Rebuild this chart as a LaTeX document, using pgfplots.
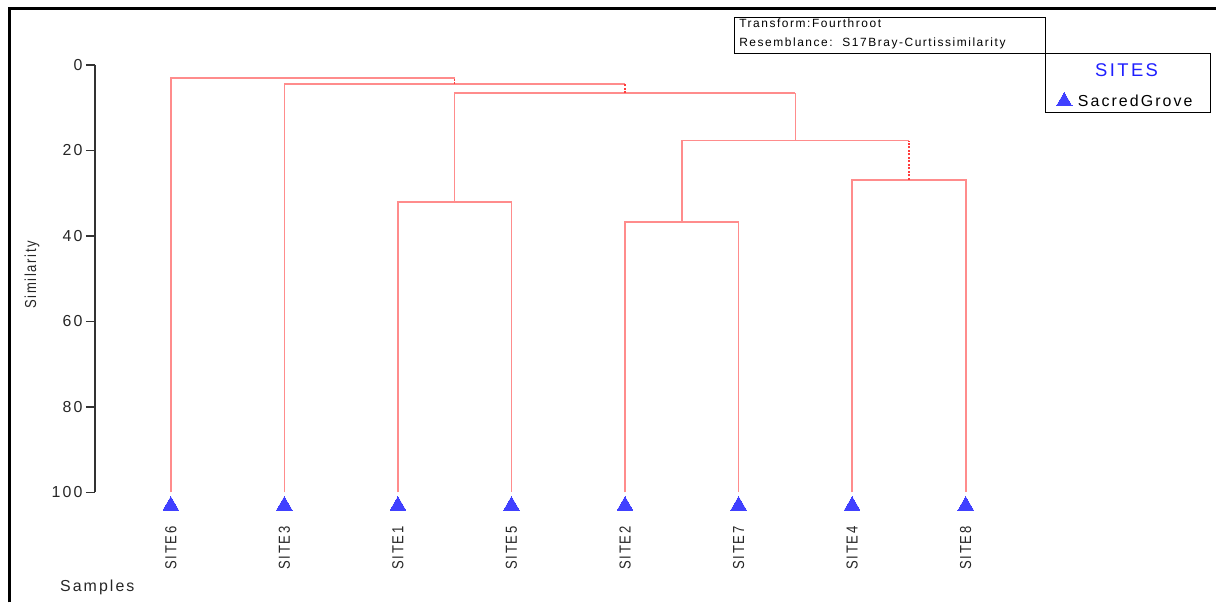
\documentclass[border=0pt]{standalone}
\usepackage{pgfplots}
\pgfplotsset{compat=1.18}
\usepackage{fontspec}
\setmainfont{Liberation Sans}
\newfontfamily\ls[LetterSpace=13]{Liberation Sans}
\definecolor{dendro}{RGB}{255,140,140}
\definecolor{dendrodot}{RGB}{255,60,60}
\definecolor{markblue}{RGB}{64,64,255}
\definecolor{sitesblue}{RGB}{30,30,255}
\definecolor{axisgray}{RGB}{51,51,51}
\newcommand\sitelab[1]{\scalebox{0.82}[1]{#1}}
\begin{document}
\begin{tikzpicture}
\begin{axis}[
  at={(0,0)}, anchor=origin,
  scale only axis, width=928.7bp, height=428bp,
  xmin=-0.668, xmax=7.5, ymin=0, ymax=100,
  y dir=reverse,
  axis x line=none, axis y line*=left,
  y axis line style={-, draw=axisgray, line width=1.2bp},
  ytick={0,20,40,60,80,100},
  tick align=outside, major tick length=9bp,
  tick style={draw=axisgray, line width=1.2bp},
  yticklabel style={font=\ls\fontsize{16}{16}\selectfont, text=black!85},
  /pgf/number format/assume math mode=true,
  clip=false,
  legend style={draw=none, fill=none, inner sep=0pt, column sep=4bp,
    at={(axis cs:7.797,8.5)}, anchor=west,
    font=\ls\fontsize{16}{16}\selectfont},
]
% solid links
\addplot[dendro, line width=1.6bp, forget plot] coordinates {(0,100) (0,3.1) (2.5,3.1)};
\addplot[dendro, line width=1.6bp, forget plot] coordinates {(1,100) (1,4.5) (4,4.5)};
\addplot[dendro, line width=1.6bp, forget plot] coordinates {(2,100) (2,32.1) (3,32.1) (3,100)};
\addplot[dendro, line width=1.6bp, forget plot] coordinates {(4,100) (4,36.7) (5,36.7) (5,100)};
\addplot[dendro, line width=1.6bp, forget plot] coordinates {(6,100) (6,26.9) (7,26.9) (7,100)};
\addplot[dendro, line width=1.6bp, forget plot] coordinates {(2.5,32.1) (2.5,6.6) (5.5,6.6)};
\addplot[dendro, line width=1.6bp, forget plot] coordinates {(4.5,36.7) (4.5,17.7) (6.5,17.7)};
\addplot[dendro, line width=1.6bp, forget plot] coordinates {(5.5,17.7) (5.5,6.6)};
% dotted links
\addplot[dendrodot, line width=1.5bp, dash pattern=on 2bp off 1.5bp, forget plot] coordinates {(6.5,26.9) (6.5,17.7)};
\addplot[dendrodot, line width=1.5bp, dash pattern=on 2bp off 1.5bp, forget plot] coordinates {(4,6.6) (4,4.5)};
\addplot[dendrodot, line width=1.5bp, dash pattern=on 2bp off 1.5bp, forget plot] coordinates {(2.5,4.5) (2.5,3.1)};
% samples
\addplot[only marks, color=markblue, mark=triangle*, mark size=9bp, mark options={fill=markblue, draw=markblue, line width=0pt}]
  coordinates {(0,103.1) (1,103.1) (2,103.1) (3,103.1) (4,103.1) (5,103.1) (6,103.1) (7,103.1)};
\addlegendentry{SacredGrove}
\begin{scope}[every node/.style={rotate=90, anchor=east, inner sep=0pt, font=\ls\fontsize{16}{16}\selectfont, text=black!85}]
\node at (axis cs:0,107.9) {\sitelab{SITE6}};
\node at (axis cs:1,107.9) {\sitelab{SITE3}};
\node at (axis cs:2,107.9) {\sitelab{SITE1}};
\node at (axis cs:3,107.9) {\sitelab{SITE5}};
\node at (axis cs:4,107.9) {\sitelab{SITE2}};
\node at (axis cs:5,107.9) {\sitelab{SITE7}};
\node at (axis cs:6,107.9) {\sitelab{SITE4}};
\node at (axis cs:7,107.9) {\sitelab{SITE8}};
\end{scope}
\end{axis}
\begin{scope}[shift={(-171bp,65bp)}, x=1bp, y=-1bp]
\path (0,0) rectangle (1217,603);
\draw[line width=3bp, line join=miter] (9.5,603) -- (9.5,8.5) -- (1217,8.5);
\draw[line width=1bp] (735.5,17.5) rectangle (1046.5,53.5);
\draw[line width=1bp] (1046.5,53.5) rectangle (1211.5,112.5);
\node[anchor=base west, inner sep=0pt, font=\ls\fontsize{12}{12}\selectfont] at (740,28) {Transform:Fourthroot};
\node[anchor=base west, inner sep=0pt, font=\ls\fontsize{12}{12}\selectfont] at (740,47) {Resemblance:\ \ S17Bray-Curtissimilarity};
\node[anchor=base, inner sep=0pt, text=sitesblue, font=\ls\fontsize{18.5}{18.5}\selectfont] at (1128,77) {SITES};
\node[anchor=base west, inner sep=0pt, font=\ls\fontsize{16}{16}\selectfont, text=black!85] at (60,592) {Samples};
\node[rotate=90, inner sep=0pt, font=\ls\fontsize{16}{16}\selectfont, text=black!85] at (32,275) {\sitelab{Similarity}};
\end{scope}
\end{tikzpicture}
\end{document}
